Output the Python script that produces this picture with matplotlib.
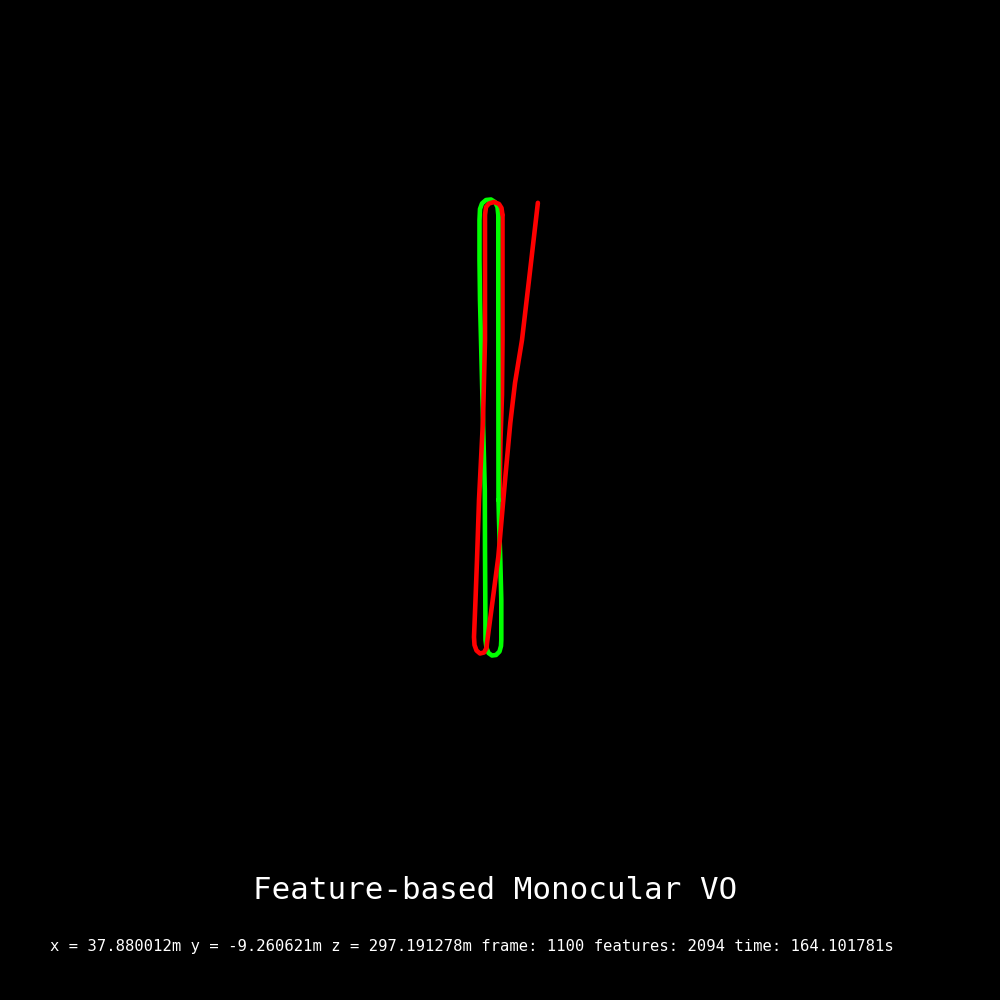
import numpy as np
import matplotlib
matplotlib.use('Agg')
import matplotlib.pyplot as plt

# trajectory points in metres (x, z), 1 px = 1 m, origin at image centre
gt_x = [-1.5, -1.6, -1.7, -1.7, -2.5, -5.0, -9.0, -14.0, -18.0, -20.0, -20.5,
        -20.5, -20.0, -19.0, -18.0, -16.5, -15.2, -15.0, -14.7, -14.5,
        -13.5, -11.5, -8.0, -4.0, -0.5, 1.0, 1.3,
        1.3, 0.3, -1.0, -1.5]
gt_z = [0.0, 100.0, 200.0, 285.0, 293.0, 298.0, 300.5, 300.0, 296.5, 291.0, 280.0,
        240.0, 200.0, 160.0, 120.0, 60.0, 10.0, -50.0, -100.0, -140.0,
        -148.0, -153.0, -155.5, -155.0, -151.5, -146.0, -140.0,
        -100.0, -60.0, -20.0, 0.0]

# estimated trajectory, first leg (drawn under the ground truth)
est1_x = [-0.5, 0.5, 2.0, 2.5, 2.5, 2.5]
est1_z = [0.0, 60.0, 105.0, 160.0, 240.0, 285.0]

# estimated trajectory, rest of the run
est2_x = [2.5, 1.5, -1.0, -6.0, -11.0, -14.0, -15.0,
          -15.0, -15.0, -16.0, -17.0, -19.0, -21.0, -23.0, -24.5, -26.0,
          -25.5, -23.5, -20.0, -16.0, -13.5,
          -13.0, -7.7, -1.7, 3.3, 5.7, 10.3, 15.0, 22.0, 29.0, 37.88]
est2_z = [285.0, 292.0, 296.0, 298.0, 296.5, 293.0, 285.0,
          240.0, 160.0, 120.0, 80.0, 40.0, 0.0, -60.0, -100.0, -137.0,
          -145.0, -150.5, -153.5, -152.5, -148.0,
          -143.0, -103.0, -57.0, 0.0, 27.0, 77.0, 117.0, 160.0, 220.0, 297.19]

title = 'Feature-based Monocular VO'
info = ('x = 37.880012m y = -9.260621m z = 297.191278m '
        'frame: 1100 features: 2094 time: 164.101781s')

fig = plt.figure(figsize=(10, 10), dpi=100, facecolor='black')
ax = fig.add_axes([0, 0, 1, 1])
ax.set_facecolor('black')
ax.set_xlim(-500, 500)
ax.set_ylim(-500, 500)
ax.axis('off')

kw = dict(lw=3.3, solid_capstyle='round', solid_joinstyle='round')
ax.plot(est1_x, est1_z, color='#ff0000', **kw)
ax.plot(gt_x, gt_z, color='#00ff00', **kw)
ax.plot(est2_x, est2_z, color='#ff0000', **kw)

fig.text(0.4947, 1 - 899.3 / 1000, title, color='white', ha='center',
         va='baseline', family='DejaVu Sans Mono', fontsize=22.2)
fig.text(0.0505, 1 - 951 / 1000, info, color='white', ha='left',
         va='baseline', family='DejaVu Sans Mono', fontsize=11.2)

fig.savefig('out.png', dpi=100, facecolor='black')
